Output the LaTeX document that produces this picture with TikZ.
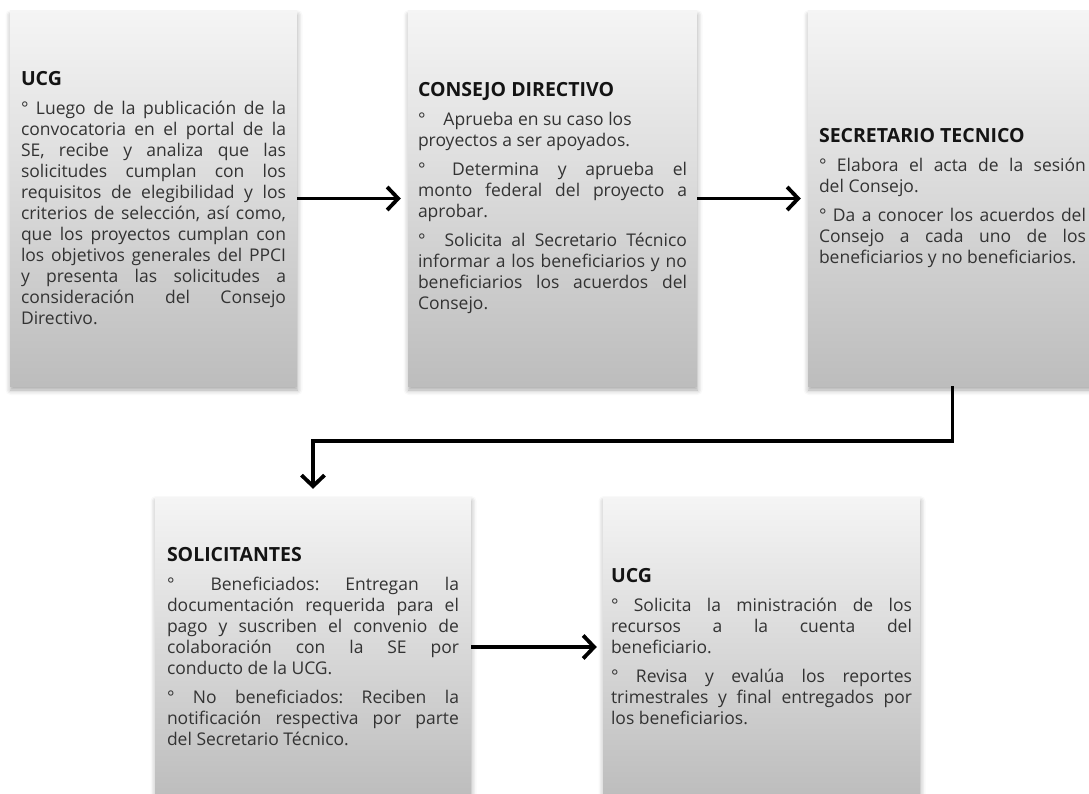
\documentclass[tikz,border=0pt]{standalone}
\usepackage{fontspec}
\setmainfont{Open Sans}
\usetikzlibrary{arrows.meta,shadows.blur}
\newcommand{\bxsetup}{\frenchspacing\parindent=0pt\parskip=8pt\tolerance=9999\hbadness=10000\emergencystretch=0pt}
\newcommand{\hd}[1]{{\fontsize{19.5}{21}\selectfont\bfseries\color{black!92}#1}\par}
\tikzset{
  bx/.style={rectangle, inner sep=0pt, align=justify,
    top color=white!96!black, bottom color=white!74!black, draw=none,
    blur shadow={shadow xshift=0.5pt, shadow yshift=-4pt, shadow blur radius=5pt, shadow opacity=35},
    font=\fontsize{17.5}{21}\selectfont, text=black!80},
  conn/.style={line width=3.8pt, -{Straight Barb[length=11pt,width=23pt]}}
}
\begin{document}
\begin{tikzpicture}[x=1pt,y=-1pt]
\useasboundingbox (0,0) rectangle (1089,794);
\clip (0,0) rectangle (1089,794);
\node[bx, minimum width=287pt, minimum height=375pt, text width=265pt] (b1) at (153.5,198.5) {\bxsetup
\hd{UCG}
° Luego de la publicación de la\break
convocatoria en el portal de la\break
SE, recibe y analiza que las\break
solicitudes cumplan con los\break
requisitos de elegibilidad y los\break
criterios de selección, así como,\break
que los proyectos cumplan con\break
los objetivos generales del PPCI\break
y presenta las solicitudes a\break
consideración del Consejo\break
Directivo.};
\node[bx, minimum width=289pt, minimum height=375pt, text width=269pt] (b2) at (552.5,198.5) {\bxsetup
\hd{CONSEJO DIRECTIVO}
°\hspace{18pt}Aprueba en su caso los\hfil\break
proyectos a ser apoyados.\par
°\hspace{8pt} Determina y aprueba el\break
monto federal del proyecto a\break
aprobar.\par
°\hspace{10pt} Solicita al Secretario Técnico\break
informar a los beneficiarios y no\break
beneficiarios los acuerdos del\break
Consejo.};
\node[bx, minimum width=289pt, minimum height=375pt, text width=267pt] (b3) at (952.5,198.5) {\bxsetup
\hd{SECRETARIO TECNICO}
° Elabora el acta de la sesión\break
del Consejo.\par
° Da a conocer los acuerdos del\break
Consejo a cada uno de los\break
beneficiarios y no beneficiarios.};
\node[bx, minimum width=316pt, minimum height=300pt, text width=292pt] (b4) at (313,647) {\bxsetup
\hd{SOLICITANTES}
°\hspace{10pt} Beneficiados: Entregan la\break
documentación requerida para el\break
pago y suscriben el convenio de\break
colaboración con la SE por\break
conducto de la UCG.\par
° No beneficiados: Reciben la\break
notificación respectiva por parte\break
del Secretario Técnico.};
\node[bx, minimum width=317pt, minimum height=300pt, text width=301pt] (b5) at (761.5,647) {\bxsetup
\hd{UCG}
° Solicita la ministración de los\break
recursos a la cuenta del\break
beneficiario.\par
° Revisa y evalúa los reportes\break
trimestrales y final entregados por\break
los beneficiarios.};
\draw[conn, shorten >=7pt] (b1.east) -- (b2.west);
\draw[conn, shorten >=7pt] (b2.east) -- (b3.west);
\draw[conn, shorten >=8pt] (b3.south) -- ++(0,55) -| (b4.north);
\draw[conn, shorten >=6pt] (b4.east) -- (b5.west);
\end{tikzpicture}
\end{document}
